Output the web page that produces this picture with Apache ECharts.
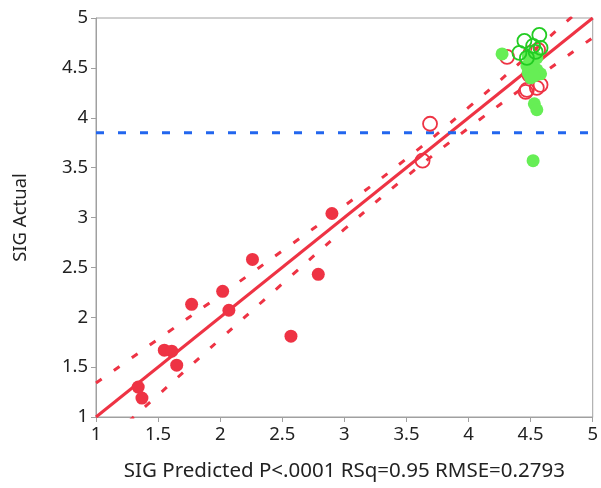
<!DOCTYPE html>
<html><head><meta charset="utf-8">
<script src="https://cdn.jsdelivr.net/npm/echarts@6/dist/echarts.min.js"></script>
<style>html,body{margin:0;padding:0;background:#fff}#c{width:601px;height:488px}</style>
</head><body><div id="c"></div>
<script>
// Red filled points (predicted, actual)
const redFilledX = [2.90, 2.26, 2.79, 2.02, 1.77, 2.07, 2.57, 1.55, 1.61, 1.65, 1.34, 1.37];
const redFilledY = [3.04, 2.58, 2.43, 2.26, 2.13, 2.07, 1.81, 1.67, 1.66, 1.52, 1.30, 1.19];
// Red open points
const redOpenX = [3.69, 3.63, 4.31, 4.49, 4.47, 4.55, 4.58, 4.50, 4.56, 4.46];
const redOpenY = [3.94, 3.57, 4.61, 4.43, 4.28, 4.30, 4.33, 4.65, 4.68, 4.26];
// Green filled points
const greenFilledX = [4.27, 4.48, 4.50, 4.47, 4.52, 4.55, 4.48, 4.58, 4.50, 4.53, 4.55, 4.52, 4.55, 4.50, 4.53];
const greenFilledY = [4.64, 4.62, 4.58, 4.52, 4.50, 4.48, 4.45, 4.44, 4.40, 4.14, 4.08, 3.57, 4.60, 4.55, 4.42];
// Green open points
const greenOpenX = [4.45, 4.57, 4.41, 4.52, 4.58, 4.54, 4.47];
const greenOpenY = [4.77, 4.83, 4.65, 4.72, 4.70, 4.66, 4.60];
// Fit line and confidence curves
const fitX = [1, 5];
const fitY = [1, 5];
const bandX = [1, 1.5, 2, 2.5, 3, 3.5, 4, 4.5, 5];
const bandUpper = [1.34, 1.78, 2.22, 2.665, 3.117, 3.59, 4.103, 4.645, 5.198];
const bandLower = [0.66, 1.22, 1.78, 2.335, 2.883, 3.41, 3.897, 4.355, 4.802];
const refLine = 3.85;
const ticks = [1, 1.5, 2, 2.5, 3, 3.5, 4, 4.5, 5];

const zip = (a, b) => a.map((v, i) => [v, b[i]]);
const RED = '#EE3344', GREEN_F = '#66EE55', GREEN_O = '#22CC22', BLUE = '#2266EE';
const font = 'Noto Sans';
const chart = echarts.init(document.getElementById('c'));
const axisCommon = {
  min: ticks[0], max: ticks[ticks.length - 1], interval: 0.5,
  axisLine: {show: true, lineStyle: {color: '#A0A0A0', width: 1}},
  axisTick: {show: true, length: 5, lineStyle: {color: '#A0A0A0'}},
  splitLine: {show: false},
  axisLabel: {color: '#222', fontSize: 18.5, fontFamily: font, margin: 8},
  nameTextStyle: {color: '#222', fontSize: 18.5, fontFamily: font},
  nameLocation: 'middle'
};
chart.setOption({
  animation: false,
  grid: {left: 96, right: 7, top: 18, bottom: 71, show: true, borderColor: '#A0A0A0', borderWidth: 1},
  xAxis: Object.assign({}, axisCommon, {type: 'value', name: 'SIG Predicted P<.0001 RSq=0.95 RMSE=0.2793', nameGap: 44,
    nameTextStyle: {color: '#222', fontSize: 20.5, fontFamily: font}}),
  yAxis: Object.assign({}, axisCommon, {type: 'value', name: 'SIG Actual', nameGap: 66}),
  series: [
    {type: 'line', data: zip(bandX, bandUpper), smooth: true, symbol: 'none', clip: true, z: 2,
     lineStyle: {color: RED, width: 3, type: [7, 15]}},
    {type: 'line', data: zip(bandX, bandLower), smooth: true, symbol: 'none', clip: true, z: 2,
     lineStyle: {color: RED, width: 3, type: [7, 15]}},
    {type: 'line', data: zip(fitX, fitY), symbol: 'none', clip: true, z: 2,
     lineStyle: {color: RED, width: 3}},
    {type: 'line', data: [[1, refLine], [5, refLine]], symbol: 'none', z: 2,
     lineStyle: {color: BLUE, width: 3, type: [8, 14]}},
    {type: 'scatter', data: zip(redFilledX, redFilledY), symbolSize: 13, z: 3,
     itemStyle: {color: RED, opacity: 1}},
    {type: 'scatter', data: zip(redOpenX, redOpenY), symbolSize: 14, z: 3,
     itemStyle: {color: 'rgba(0,0,0,0)', borderColor: RED, borderWidth: 1.8, opacity: 1}},
    {type: 'scatter', data: zip(greenFilledX, greenFilledY), symbolSize: 13, z: 4,
     itemStyle: {color: GREEN_F, opacity: 1}},
    {type: 'scatter', data: zip(greenOpenX, greenOpenY), symbolSize: 14, z: 5,
     itemStyle: {color: 'rgba(0,0,0,0)', borderColor: GREEN_O, borderWidth: 1.8, opacity: 1}}
  ]
});
</script></body></html>
